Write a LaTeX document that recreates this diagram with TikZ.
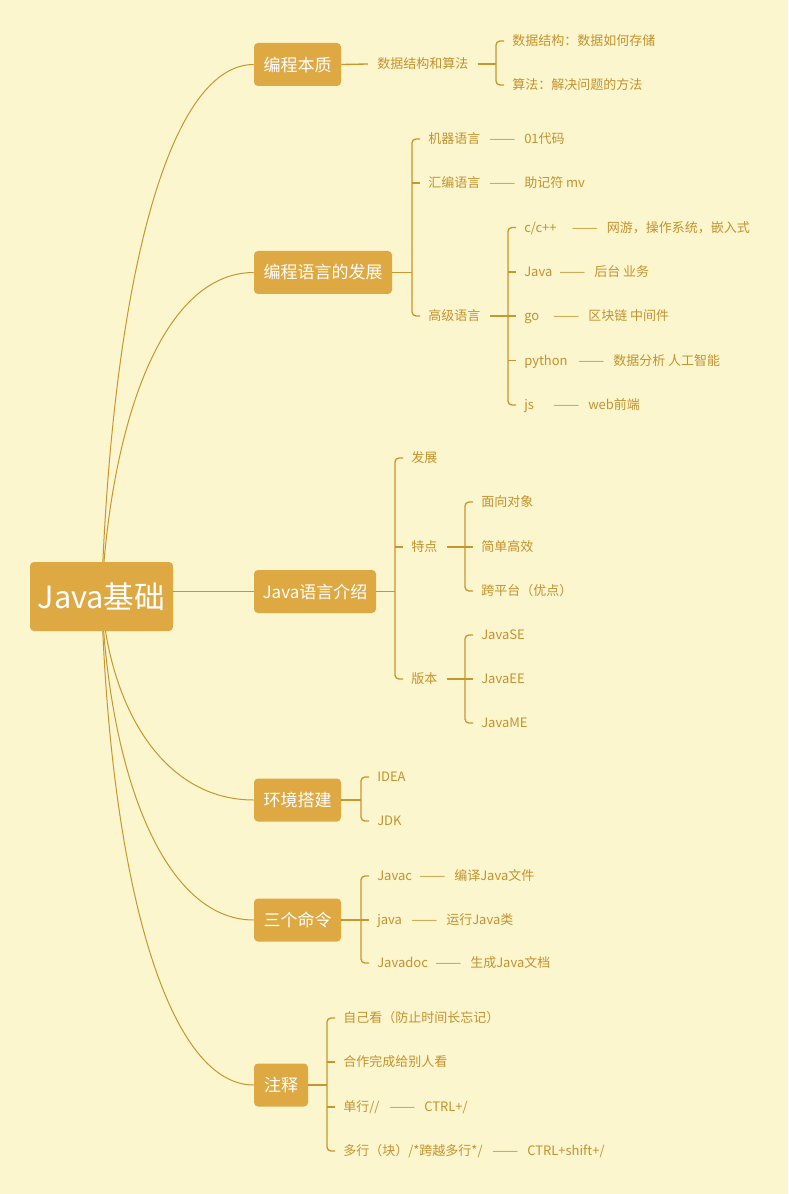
\documentclass[tikz,border=0pt]{standalone}
\usepackage{fontspec}
\usepackage{graphicx}
\setmainfont{Noto Sans CJK SC}
\usetikzlibrary{calc}
\definecolor{bg}{RGB}{252,246,206}
\definecolor{boxc}{RGB}{222,169,67}
\definecolor{linec}{RGB}{200,150,46}
\definecolor{txt}{RGB}{196,146,46}
\newdimen\pxu \pxu=0.75pt
\newcommand\dashline[3]{\makebox[#1\pxu][l]{#2}\resizebox{26\pxu}{\height}{——}\hspace{9\pxu}#3}
\pgfdeclarelayer{back}
\pgfdeclarelayer{mid}
\pgfsetlayers{back,mid,main}
\begin{document}
\begin{tikzpicture}[x=0.75pt,y=-0.75pt,
  mainbox/.style={fill=boxc, rounded corners=3pt, text=white, font=\fontsize{12.75}{15}\selectfont, minimum height=32.25pt, inner sep=0pt},
  rootbox/.style={fill=boxc, rounded corners=3pt, text=white, font=\fontsize{23}{26}\selectfont, minimum width=107.25pt, minimum height=51.75pt, inner sep=0pt},
  leaf/.style={anchor=west, inner sep=0pt, text=txt, font=\fontsize{9.75}{12}\selectfont, text height=8.6pt, text depth=1.2pt},
  curve/.style={draw=linec, line width=0.75pt},
  branch/.style={draw=linec, line width=1pt, rounded corners=3pt}]
\begin{pgfonlayer}{back}
\path[fill=bg] (0,0) rectangle (788,1194);
\end{pgfonlayer}
\useasboundingbox (0,0) rectangle (788,1194);

% root and main topics
\node[rootbox] (root) at (101.5,596.5) {Java基础};
\node[mainbox, minimum width=65.25pt] (b1) at (297.5,64.5) {编程本质};
\node[mainbox, minimum width=103.5pt] (b2) at (323,272.5) {编程语言的发展};
\node[mainbox, minimum width=91.5pt] (b3) at (315,591.5) {Java语言介绍};
\node[mainbox, minimum width=65.25pt] (b4) at (297.5,800) {环境搭建};
\node[mainbox, minimum width=65.25pt] (b5) at (297.5,920) {三个命令};
\node[mainbox, minimum width=40.5pt] (b6) at (281,1085) {注释};

% leaves
\node[leaf] (a1) at (377,64) {数据结构和算法};
\node[leaf] (a11) at (512,41) {数据结构：数据如何存储};
\node[leaf] (a12) at (512,85) {算法：解决问题的方法};

\node[leaf] (l1) at (428,139) {\dashline{61}{机器语言}{01代码}};
\node[leaf] (l2) at (428,183) {\dashline{61}{汇编语言}{助记符 mv}};
\node[leaf] (l3) at (428,316) {高级语言};
\node[leaf] (l31) at (524,227.5) {\dashline{47.7}{c/c++}{网游，操作系统，嵌入式}};
\node[leaf] (l32) at (524,272) {\dashline{35}{Java}{后台 业务}};
\node[leaf] (l33) at (524,316) {\dashline{29}{go}{区块链 中间件}};
\node[leaf] (l34) at (524,360.5) {\dashline{54}{python}{数据分析 人工智能}};
\node[leaf] (l35) at (524,405) {\dashline{29}{js}{web前端}};

\node[leaf] (j1) at (411,458) {发展};
\node[leaf] (j2) at (411,547) {特点};
\node[leaf] (j3) at (411,679) {版本};
\node[leaf] (j21) at (481,502) {面向对象};
\node[leaf] (j22) at (481,547) {简单高效};
\node[leaf] (j23) at (481,591) {跨平台（优点）};
\node[leaf] (j31) at (481,635) {JavaSE};
\node[leaf] (j32) at (481,679) {JavaEE};
\node[leaf] (j33) at (481,723) {JavaME};

\node[leaf] (e1) at (377,777) {IDEA};
\node[leaf] (e2) at (377,821) {JDK};

\node[leaf] (c1) at (377,876) {\dashline{42}{Javac}{编译Java文件}};
\node[leaf] (c2) at (377,920) {\dashline{34}{java}{运行Java类}};
\node[leaf] (c3) at (377,963) {\dashline{58}{Javadoc}{生成Java文档}};

\node[leaf] (n1) at (343,1018) {自己看（防止时间长忘记）};
\node[leaf] (n2) at (343,1062) {合作完成给别人看};
\node[leaf] (n3) at (343,1107) {\dashline{46}{单行//}{CTRL+/}};
\node[leaf] (n4) at (343,1151) {\dashline{149}{多行（块）/*跨越多行*/}{CTRL+shift+/}};

% curves from root
\begin{pgfonlayer}{mid}
\draw[curve] (root.center) .. controls +(10,-298) and +(-89,0) .. (b1.west);
\draw[curve] (root.center) .. controls +(10,-182) and +(-89,0) .. (b2.west);
\draw[curve] (root.center) .. controls +(8,114) and +(-89,0) .. (b4.west);
\draw[curve] (root.center) .. controls +(8,181) and +(-89,0) .. (b5.west);
\draw[curve] (root.center) .. controls +(8,274) and +(-89,0) .. (b6.west);
\end{pgfonlayer}
\draw[curve] (root.east |- b3.west) -- (b3.west);

% 编程本质
\coordinate (sa) at ($(a11.west)+(-16,0)$);
\draw[branch] (b1.east) -- ($(a1.west)+(-9,0)$);
\draw[branch] ($(a1.east)+(9,0)$) -- (a1.east -| sa);
\draw[branch] ($(a11.west)+(-8,0)$) -- (sa) |- ($(a12.west)+(-8,0)$);

% 编程语言的发展
\coordinate (sl) at ($(l1.west)+(-16,0)$);
\draw[branch] (b2.east) -- (b2.east -| sl);
\draw[branch] ($(l1.west)+(-8,0)$) -- (sl) |- ($(l3.west)+(-8,0)$);
\draw[branch] (l2.west -| sl) -- ($(l2.west)+(-8,0)$);

\coordinate (sg) at ($(l31.west)+(-16,0)$);
\draw[branch] ($(l3.east)+(9,0)$) -- (l3.east -| sg);
\draw[branch] ($(l31.west)+(-8,0)$) -- (sg) |- ($(l35.west)+(-8,0)$);
\draw[branch] (l32.west -| sg) -- ($(l32.west)+(-8,0)$);
\draw[branch] (l33.west -| sg) -- ($(l33.west)+(-8,0)$);
\draw[branch] (l34.west -| sg) -- ($(l34.west)+(-8,0)$);

% Java语言介绍
\coordinate (sj) at ($(j1.west)+(-16,0)$);
\draw[branch] (b3.east) -- (b3.east -| sj);
\draw[branch] ($(j1.west)+(-8,0)$) -- (sj) |- ($(j3.west)+(-8,0)$);
\draw[branch] (j2.west -| sj) -- ($(j2.west)+(-8,0)$);

\coordinate (st) at ($(j21.west)+(-16,0)$);
\draw[branch] ($(j2.east)+(9,0)$) -- (j2.east -| st);
\draw[branch] ($(j21.west)+(-8,0)$) -- (st) |- ($(j23.west)+(-8,0)$);
\draw[branch] (j22.west -| st) -- ($(j22.west)+(-8,0)$);

\coordinate (sv) at ($(j31.west)+(-16,0)$);
\draw[branch] ($(j3.east)+(9,0)$) -- (j3.east -| sv);
\draw[branch] ($(j31.west)+(-8,0)$) -- (sv) |- ($(j33.west)+(-8,0)$);
\draw[branch] (j32.west -| sv) -- ($(j32.west)+(-8,0)$);

% 环境搭建
\coordinate (se) at ($(e1.west)+(-16,0)$);
\draw[branch] (b4.east) -- (b4.east -| se);
\draw[branch] ($(e1.west)+(-8,0)$) -- (se) |- ($(e2.west)+(-8,0)$);

% 三个命令
\coordinate (sc) at ($(c1.west)+(-16,0)$);
\draw[branch] (b5.east) -- (b5.east -| sc);
\draw[branch] ($(c1.west)+(-8,0)$) -- (sc) |- ($(c3.west)+(-8,0)$);
\draw[branch] (c2.west -| sc) -- ($(c2.west)+(-8,0)$);

% 注释
\coordinate (sn) at ($(n1.west)+(-16,0)$);
\draw[branch] (b6.east) -- (b6.east -| sn);
\draw[branch] ($(n1.west)+(-8,0)$) -- (sn) |- ($(n4.west)+(-8,0)$);
\draw[branch] (n2.west -| sn) -- ($(n2.west)+(-8,0)$);
\draw[branch] (n3.west -| sn) -- ($(n3.west)+(-8,0)$);
\end{tikzpicture}
\end{document}
